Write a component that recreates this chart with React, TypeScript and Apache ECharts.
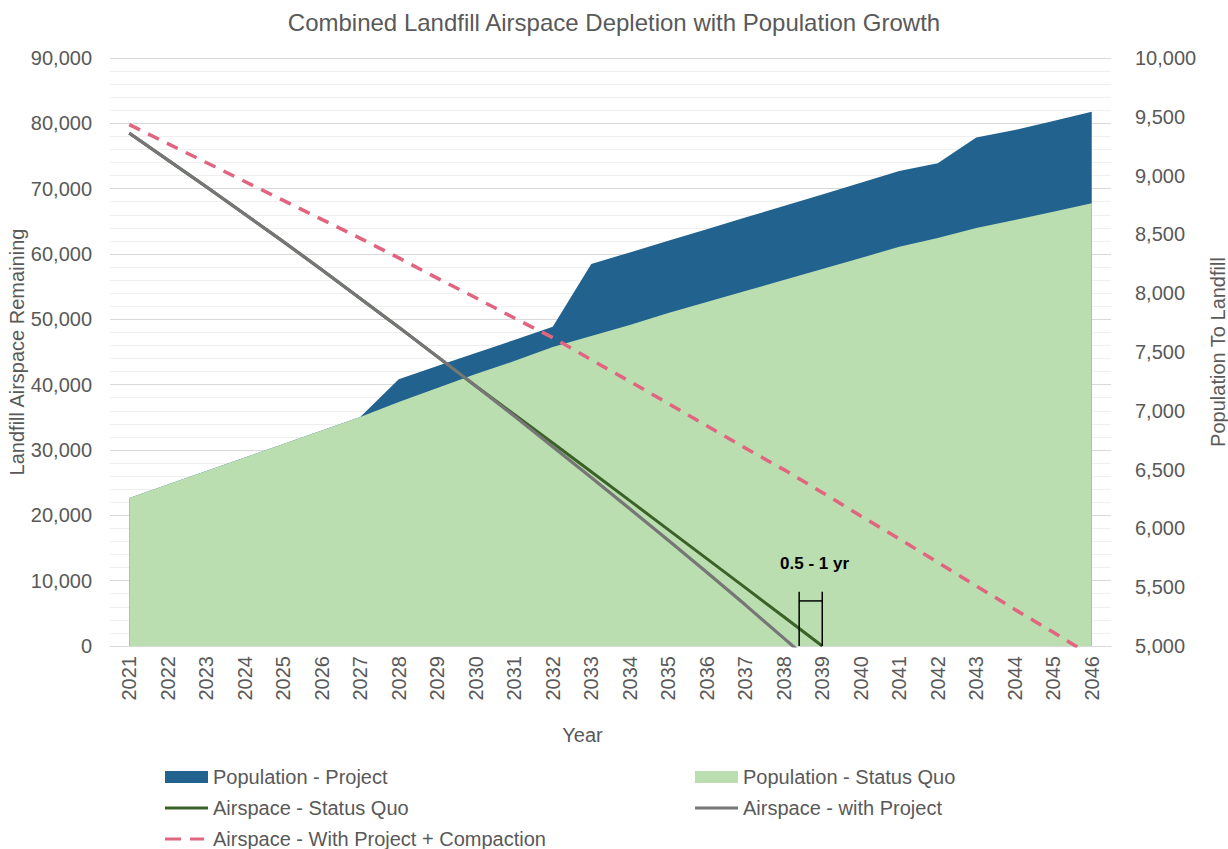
import React, { useEffect, useRef } from "react";
import * as echarts from "echarts";

const years = [
  "2021", "2022", "2023", "2024", "2025", "2026", "2027", "2028", "2029", "2030",
  "2031", "2032", "2033", "2034", "2035", "2036", "2037", "2038", "2039", "2040",
  "2041", "2042", "2043", "2044", "2045", "2046",
];

const popProject = [
  6258, 6373, 6488, 6602, 6717, 6832, 6947, 7268, 7381, 7492,
  7602, 7715, 8248, 8347, 8446, 8544, 8643, 8741, 8840, 8939,
  9039, 9104, 9325, 9388, 9464, 9543,
];

const popStatusQuo = [
  6258, 6373, 6488, 6602, 6717, 6832, 6947, 7075, 7194, 7313,
  7423, 7543, 7636, 7730, 7832, 7925, 8019, 8112, 8206, 8299,
  8395, 8469, 8554, 8622, 8693, 8764,
];

const airspaceStatusQuo = [
  78500, 74400, 70300, 66100, 61900, 57600, 53200, 48800, 44300, 39800,
  35450, 31070, 26670, 22250, 17820, 13380, 8930, 4470, 0, null,
  null, null, null, null, null, null,
];

const airspaceProject = [
  78500, 74400, 70300, 66100, 61900, 57600, 53200, 48800, 44300, 39800,
  35200, 30500, 25800, 21000, 16200, 11300, 6300, 1200, -3900, null,
  null, null, null, null, null, null,
];

const airspaceCompaction = [
  79800, 76900, 74000, 71100, 68200, 65300, 62400, 59400, 56300, 53300,
  50200, 47200, 43800, 40500, 37100, 33700, 30300, 27000, 23500, 19900,
  16400, 12800, 9200, 5600, 2100, -1500,
];

const annotationLabel = "0.5 - 1 yr";
const bracketFromIndex = 17.4;
const bracketToIndex = 18;
const bracketTopValue = 8300;
const bracketBarValue = 6900;
const labelIndex = 17.8;
const labelValue = 12700;

const FONT = "'Liberation Sans', Arial, sans-serif";
const TXT = "#595959";

const C_PROJECT = "#22628F";
const C_SQ_AREA = "#BBDEB1";
const C_SQ_LINE = "#3A6126";
const C_PRJ_LINE = "#767676";
const C_COMPACT = "#E1657F";

// legend icon shapes (bounding box 43 x 12)
const ICON_LINE = "path://M0,0L43,0L43,0.01Z M0,4.5L43,4.5L43,7.5L0,7.5Z M0,12L43,12L43,11.99Z";
const ICON_DASH =
  "path://M0,0L43,0L43,0.01Z M0,4.5L16,4.5L16,7.5L0,7.5Z M25,4.5L39,4.5L39,7.5L25,7.5Z M0,12L43,12L43,11.99Z";

const fmt = (v: number) => v.toLocaleString("en-US");

export default function App() {
  const ref = useRef<HTMLDivElement>(null);

  useEffect(() => {
    document.body.style.margin = "0";
    if (!ref.current) return;
    const chart = echarts.init(ref.current, undefined, { renderer: "svg" });

    const legendText = { color: TXT, fontSize: 20, fontFamily: FONT };

    chart.setOption({
      animation: false,
      textStyle: { fontFamily: FONT },
      title: {
        text: "Combined Landfill Airspace Depletion with Population Growth",
        left: "center",
        top: 10,
        padding: 0,
        textStyle: { color: TXT, fontSize: 24, fontWeight: "normal", fontFamily: FONT },
      },
      grid: { left: 110, right: 117, top: 58, bottom: 203, containLabel: false, outerBoundsMode: "none" },
      legend: [
        {
          orient: "vertical",
          left: 165,
          top: 767,
          itemGap: 11,
          itemWidth: 43,
          itemHeight: 12,
          padding: 0,
          textStyle: legendText,
          data: [
            { name: "Population - Project", icon: "rect", itemStyle: { color: C_PROJECT, borderWidth: 0 } },
            { name: "Airspace - Status Quo", icon: ICON_LINE, itemStyle: { color: C_SQ_LINE, borderWidth: 0 } },
            {
              name: "Airspace - With Project + Compaction",
              icon: ICON_DASH,
              itemStyle: { color: C_COMPACT, borderWidth: 0 },
            },
          ],
        },
        {
          orient: "vertical",
          left: 695,
          top: 767,
          itemGap: 11,
          itemWidth: 43,
          itemHeight: 12,
          padding: 0,
          textStyle: legendText,
          data: [
            { name: "Population - Status Quo", icon: "rect", itemStyle: { color: C_SQ_AREA, borderWidth: 0 } },
            { name: "Airspace - with Project", icon: ICON_LINE, itemStyle: { color: C_PRJ_LINE, borderWidth: 0 } },
          ],
        },
      ],
      xAxis: {
        type: "category",
        data: years,
        boundaryGap: true,
        name: "Year",
        nameLocation: "middle",
        nameGap: 79,
        nameTextStyle: { color: TXT, fontSize: 20, fontFamily: FONT, padding: [0, 56, 0, 0] },
        axisLine: { lineStyle: { color: "#D9D9D9", width: 1 } },
        axisTick: { show: false },
        axisLabel: { rotate: 90, color: TXT, fontSize: 20, margin: 10, fontFamily: FONT },
        splitLine: { show: false },
      },
      yAxis: [
        {
          type: "value",
          min: 0,
          max: 90000,
          interval: 10000,
          name: "Landfill Airspace Remaining",
          nameLocation: "middle",
          nameRotate: 90,
          nameGap: 83,
          nameMoveOverlap: false,
          nameTextStyle: { color: TXT, fontSize: 20, fontFamily: FONT },
          axisLine: { show: false },
          axisTick: { show: false },
          axisLabel: { color: TXT, fontSize: 20, margin: 18, formatter: fmt, fontFamily: FONT },
          splitLine: { show: true, lineStyle: { color: "#D9D9D9", width: 1 } },
          minorTick: { show: false, splitNumber: 5 },
          minorSplitLine: { show: true, lineStyle: { color: "#EFEFEF", width: 1 } },
        },
        {
          type: "value",
          min: 5000,
          max: 10000,
          interval: 500,
          name: "Population To Landfill",
          nameLocation: "middle",
          nameRotate: 90,
          nameGap: 97,
          nameTextStyle: { color: TXT, fontSize: 20, fontFamily: FONT },
          axisLine: { show: false },
          axisTick: { show: false },
          axisLabel: { color: TXT, fontSize: 20, margin: 24, formatter: fmt, fontFamily: FONT },
          splitLine: { show: false },
        },
      ],
      series: [
        {
          name: "Population - Project",
          type: "line",
          yAxisIndex: 1,
          data: popProject,
          symbol: "none",
          color: C_PROJECT,
          lineStyle: { width: 0, color: C_PROJECT },
          areaStyle: { color: C_PROJECT, opacity: 1 },
        },
        {
          name: "Population - Status Quo",
          type: "line",
          yAxisIndex: 1,
          data: popStatusQuo,
          symbol: "none",
          color: C_SQ_AREA,
          lineStyle: { width: 0, color: C_SQ_AREA },
          areaStyle: { color: C_SQ_AREA, opacity: 1 },
        },
        {
          name: "Airspace - Status Quo",
          type: "line",
          yAxisIndex: 0,
          data: airspaceStatusQuo,
          symbol: "none",
          clip: true,
          color: C_SQ_LINE,
          lineStyle: { width: 3, color: C_SQ_LINE },
        },
        {
          name: "Airspace - with Project",
          type: "line",
          yAxisIndex: 0,
          data: airspaceProject,
          symbol: "none",
          clip: true,
          color: C_PRJ_LINE,
          lineStyle: { width: 3.2, color: C_PRJ_LINE },
        },
        {
          name: "Airspace - With Project + Compaction",
          type: "line",
          yAxisIndex: 0,
          data: airspaceCompaction,
          symbol: "none",
          clip: true,
          color: C_COMPACT,
          lineStyle: { width: 3.5, color: C_COMPACT, type: [12, 9] },
        },
      ],
    });

    const px = (idx: number, val: number) => {
      const i0 = Math.floor(idx);
      const f = idx - i0;
      const a = chart.convertToPixel({ xAxisIndex: 0, yAxisIndex: 0 }, [i0, val]) as number[];
      const b = chart.convertToPixel({ xAxisIndex: 0, yAxisIndex: 0 }, [i0 + 1, val]) as number[];
      return [a[0] + f * (b[0] - a[0]), a[1]];
    };

    const l0 = px(bracketFromIndex, 0);
    const l1 = px(bracketFromIndex, bracketTopValue);
    const r0 = px(bracketToIndex, 0);
    const r1 = px(bracketToIndex, bracketTopValue);
    const barL = px(bracketFromIndex, bracketBarValue);
    const barR = px(bracketToIndex, bracketBarValue);
    const lab = px(labelIndex, labelValue);
    const ls = { stroke: "#000", lineWidth: 1.5 };

    chart.setOption({
      graphic: [
        { type: "line", shape: { x1: l0[0], y1: l0[1], x2: l1[0], y2: l1[1] }, style: ls, z: 100 },
        { type: "line", shape: { x1: r0[0], y1: r0[1], x2: r1[0], y2: r1[1] }, style: ls, z: 100 },
        { type: "line", shape: { x1: barL[0], y1: barL[1], x2: barR[0], y2: barR[1] }, style: ls, z: 100 },
        {
          type: "text",
          x: lab[0],
          y: lab[1],
          z: 100,
          style: {
            text: annotationLabel,
            fill: "#000",
            font: `bold 17px ${FONT}`,
            align: "center",
            verticalAlign: "middle",
          },
        },
      ],
    });

    return () => chart.dispose();
  }, []);

  return <div ref={ref} style={{ width: 1228, height: 849 }} />;
}
